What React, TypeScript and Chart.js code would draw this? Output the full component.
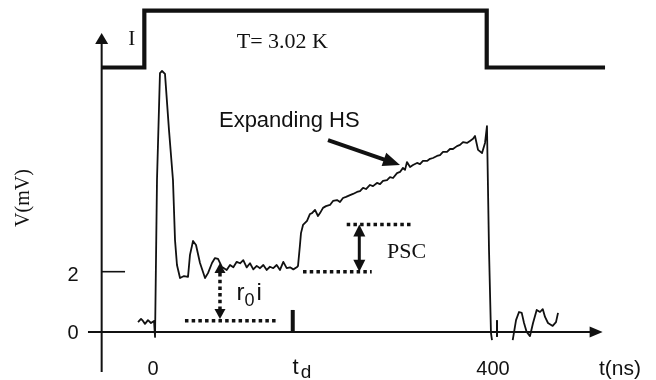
import React, { useEffect, useRef } from "react";
import { Chart, registerables } from "chart.js";
Chart.register(...registerables);

// Voltage trace V(mV) vs t(ns)
const traceTime = [
  -17.6, -14.1, -11.8, -9.4, -5.9, -2.4, 1.2, 2.4, 4.7, 8.2, 10.6, 14.1, 18.8, 23.5, 25.9, 28.2, 31.8, 36.5, 41.2,
  43.5, 47.1, 50.6, 55.3, 61.2, 64.7, 69.4, 72.9, 76.5, 81.2, 86.7, 90.6, 94.5, 98.5, 102.4, 106.2, 110.2, 114.1,
  118.0, 122.0, 125.9, 129.8, 133.8, 137.6, 141.5, 145.5, 149.4, 153.3, 157.3, 161.2, 165.1, 169.1, 170.6, 172.9,
  174.1, 176.5, 181.2, 184.7, 187.1, 190.6, 194.1, 196.5, 200.0, 203.5, 208.2, 211.8, 216.5, 220.0, 223.5, 227.1,
  231.8, 235.3, 240.0, 243.5, 247.1, 250.6, 255.3, 258.8, 263.5, 267.1, 270.6, 275.3, 278.8, 282.4, 287.1, 290.6,
  294.1, 296.5, 298.8, 302.4, 305.9, 310.6, 314.1, 317.6, 322.4, 325.9, 329.4, 334.1, 337.6, 341.2, 345.9, 349.4,
  352.9, 357.6, 361.2, 364.7, 369.4, 372.9, 376.5, 378.8, 382.4, 387.1, 390.6, 392.9, 395.3, 397.6, 398.8,
];
const traceVolt = [
  0.34, 0.45, 0.38, 0.28, 0.41, 0.31, 0.38, -0.17, 5.24, 8.93, 9.0, 8.9, 6.97, 5.24, 3.17, 2.31, 1.86, 1.93, 1.9,
  2.66, 3.14, 3.0, 2.38, 1.86, 2.03, 2.38, 2.55, 2.52, 2.24, 2.14, 2.31, 2.23, 2.42, 2.37, 2.48, 2.23, 2.37,
  2.16, 2.28, 2.2, 2.31, 2.14, 2.25, 2.2, 2.31, 2.14, 2.42, 2.2, 2.23, 2.16, 2.23, 2.28, 3.0,
  3.41, 3.69, 3.83, 4.07, 4.1, 4.21, 4.0, 4.1, 4.28, 4.34, 4.38, 4.52, 4.55, 4.48, 4.62, 4.66,
  4.72, 4.76, 4.83, 4.86, 4.97, 4.93, 5.07, 5.03, 5.14, 5.1, 5.21, 5.24, 5.34, 5.31, 5.48, 5.52,
  5.66, 5.59, 5.86, 5.69, 5.76, 5.83, 5.79, 5.9, 5.9, 5.97, 6.0, 6.07, 6.1, 6.21, 6.21, 6.31,
  6.31, 6.41, 6.45, 6.55, 6.52, 6.59, 6.66, 6.76, 6.28, 6.17, 6.52, 7.1, 2.83, -0.03, -0.28,
];
// Trace after the current pulse ends
const tailTime = [423.2, 427.1, 430.6, 433.8, 436.5, 439.6, 443.5, 447.1, 451.4, 455.3, 458.5, 461.2, 464.7, 470.2, 474.1, 476.5];
const tailVolt = [-0.28, 0.41, 0.69, 0.66, 0.31, 0.0, -0.14, 0.31, 0.76, 0.69, 0.79, 0.52, 0.31, 0.21, 0.34, 0.66];
// Current pulse I (drawn on the same frame)
const pulseTime = [-61.2, -10.2, -10.2, 392.6, 392.6, 531.8];
const pulseLevel = [9.12, 9.12, 11.08, 11.08, 9.12, 9.12];
// Tick labels
const xTickValues = [0, 400];
const xTickLabels = ["0", "400"];
const yTickValues = [0, 2];
const yTickLabels = ["0", "2"];
// Reference levels (mV) and times (ns) for annotations
const tdTime = 164.4;
const r0iBase = 0.39;
const plateau = 2.08;
const pscTop = 3.71;

const SERIF = "'Liberation Serif', 'Times New Roman', serif";
const SANS = "'Liberation Sans', Arial, sans-serif";
const INK = "#111111";

const pts = (xs: number[], ys: number[]) => xs.map((x, i) => ({ x, y: ys[i] }));
const seg = (x1: number, y1: number, x2: number, y2: number) => [{ x: x1, y: y1 }, { x: x2, y: y2 }];

function head(ctx: CanvasRenderingContext2D, tx: number, ty: number, dx: number, dy: number, len: number, half: number) {
  const n = Math.hypot(dx, dy);
  const ux = dx / n, uy = dy / n;
  const bx = tx - ux * len, by = ty - uy * len;
  ctx.beginPath();
  ctx.moveTo(tx, ty);
  ctx.lineTo(bx - uy * half, by + ux * half);
  ctx.lineTo(bx + uy * half, by - ux * half);
  ctx.closePath();
  ctx.fill();
}

const annot = {
  id: "annot",
  afterDatasetsDraw(c: any) {
    const ctx: CanvasRenderingContext2D = c.ctx;
    const X = (t: number) => c.scales.x.getPixelForValue(t);
    const Y = (v: number) => c.scales.y.getPixelForValue(v);
    ctx.save();
    ctx.fillStyle = INK;
    ctx.strokeStyle = INK;
    // axis arrowheads
    head(ctx, X(-60.4), Y(10.31), 0, -1, 11, 6.5);
    head(ctx, X(529), Y(0), 1, 0, 13, 5.5);
    // r0 i dotted double arrow
    head(ctx, X(78.8), Y(2.38), 0, -1, 10, 5.5);
    head(ctx, X(78.8), Y(0.45), 0, 1, 10, 5.5);
    ctx.setLineDash([3.5, 3.2]);
    ctx.lineWidth = 3.5;
    ctx.beginPath();
    ctx.moveTo(X(78.8), Y(2.38) + 10);
    ctx.lineTo(X(78.8), Y(0.45) - 10);
    ctx.stroke();
    ctx.setLineDash([]);
    // PSC double arrow
    const px = X(242.7);
    head(ctx, px, Y(pscTop), 0, -1, 12, 6);
    head(ctx, px, Y(plateau), 0, 1, 12, 6);
    ctx.lineWidth = 3;
    ctx.beginPath();
    ctx.moveTo(px, Y(pscTop) + 10);
    ctx.lineTo(px, Y(plateau) - 10);
    ctx.stroke();
    // Expanding HS arrow
    const sx = X(205.9), sy = Y(6.62), ex = X(290.6), ey = Y(5.76);
    const dx = ex - sx, dy = ey - sy, n = Math.hypot(dx, dy);
    ctx.lineWidth = 4;
    ctx.beginPath();
    ctx.moveTo(sx, sy);
    ctx.lineTo(ex - (dx / n) * 12, ey - (dy / n) * 12);
    ctx.stroke();
    head(ctx, ex, ey, dx, dy, 17, 7);

    // texts
    ctx.textBaseline = "alphabetic";
    ctx.font = `21px ${SERIF}`;
    ctx.textAlign = "center";
    ctx.fillText("I", X(-25.1), Y(9.9));
    ctx.font = `22px ${SERIF}`;
    ctx.textAlign = "left";
    ctx.fillText("T= 3.02 K", X(98.5), Y(9.78));
    ctx.fillText("PSC", X(275.3), Y(2.55));
    ctx.font = `22px ${SANS}`;
    ctx.fillText("Expanding HS", X(77.6), Y(7.06));
    ctx.font = `24px ${SANS}`;
    ctx.fillText("r", X(98.2), Y(1.1));
    ctx.fillText("i", X(121.8), Y(1.1));
    ctx.font = `18px ${SANS}`;
    ctx.fillText("0", X(107.6), Y(0.9));
    ctx.font = `22px ${SANS}`;
    ctx.fillText("t", X(164.2), Y(-1.46));
    ctx.font = `19px ${SANS}`;
    ctx.fillText("d", X(173.8), Y(-1.6));
    ctx.font = `20px ${SANS}`;
    ctx.textAlign = "center";
    xTickValues.forEach((v, i) => ctx.fillText(xTickLabels[i], X(v), Y(-1.48)));
    yTickValues.forEach((v, i) => ctx.fillText(yTickLabels[i], X(-94.1), Y(v) + 7));
    ctx.font = `21px ${SANS}`;
    ctx.fillText("t(ns)", X(549.4), Y(-1.48));
    // rotated y title
    ctx.translate(X(-152.5), Y(4.62));
    ctx.rotate(-Math.PI / 2);
    ctx.font = `20px ${SERIF}`;
    ctx.textBaseline = "middle";
    ctx.fillText("V(mV)", 0, 0);
    ctx.restore();
  },
};

export default function App() {
  const ref = useRef<HTMLCanvasElement | null>(null);
  useEffect(() => {
    if (!ref.current) return;
    const line = (data: any[], w: number, extra: any = {}) => ({
      data,
      showLine: true,
      borderColor: INK,
      borderWidth: w,
      pointRadius: 0,
      fill: false,
      tension: 0,
      ...extra,
    });
    const dotted = { borderDash: [3.5, 3.2], borderCapStyle: "butt" };
    const chart = new Chart(ref.current, {
      type: "scatter",
      data: {
        datasets: [
          line(pts(traceTime, traceVolt), 1.8, { borderJoinStyle: "round" }),
          line(pts(tailTime, tailVolt), 1.8, { borderJoinStyle: "round" }),
          line(pts(pulseTime, pulseLevel), 4.2, { borderJoinStyle: "miter" }),
          line(seg(-60.4, -1.38, -60.4, 9.98), 2),
          line(seg(-76.5, 0, 516, 0), 2),
          line(seg(-60.4, plateau, -32.9, plateau), 1.6),
          line(seg(tdTime, 0, tdTime, 0.76), 4),
          line(seg(404.7, -0.17, 404.7, 0.41), 2),
          line(seg(37.6, r0iBase, 147, r0iBase), 3.5, dotted),
          line(seg(176.5, plateau, 257.3, plateau), 3.5, dotted),
          line(seg(227.9, pscTop, 305.9, pscTop), 3.5, dotted),
        ],
      },
      options: {
        animation: false,
        responsive: false,
        maintainAspectRatio: false,
        layout: { padding: 0 },
        plugins: { legend: { display: false }, tooltip: { enabled: false } },
        scales: {
          x: { type: "linear", min: -180, max: 591.76, display: false },
          y: { type: "linear", min: -1.655, max: 11.448, display: false },
        },
      },
      plugins: [annot],
    } as any);
    return () => chart.destroy();
  }, []);
  return (
    <div style={{ position: "fixed", left: 0, top: 0, width: 656, height: 380, background: "#fff" }}>
      <canvas ref={ref} width={656} height={380} style={{ width: 656, height: 380, display: "block" }} />
    </div>
  );
}
